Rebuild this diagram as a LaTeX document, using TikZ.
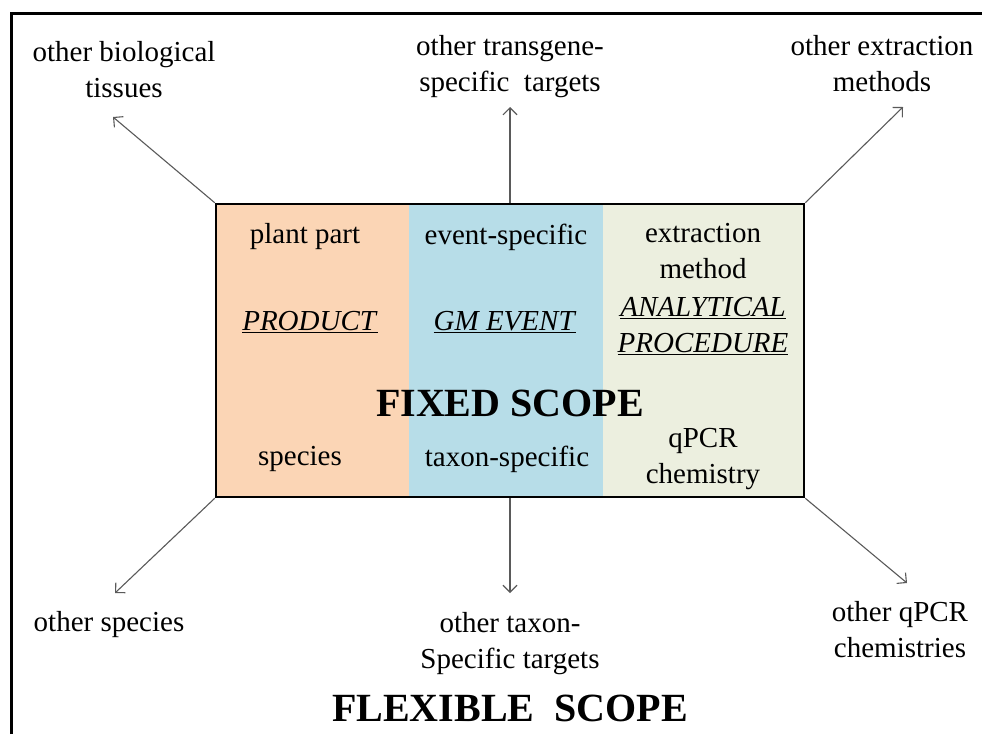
\documentclass[tikz,border=0pt]{standalone}
\usepackage{fontspec}
\setmainfont{Liberation Serif}
\usetikzlibrary{arrows.meta}
\definecolor{cA}{HTML}{FBD5B5}
\definecolor{cB}{HTML}{B7DDE8}
\definecolor{cC}{HTML}{ECEFDF}
\definecolor{arr}{HTML}{5A5A5A}
\tikzset{
 lbl/.style={font=\fontsize{29}{36}\selectfont, align=center, inner sep=0pt},
 big/.style={font=\fontsize{40}{48}\selectfont\bfseries, inner sep=0pt},
 cell/.style={draw=none, inner sep=0pt, minimum height=293pt},
 con/.style={draw=arr, line width=1.1pt, -{Straight Barb[length=7pt,width=14pt]}},
}
\begin{document}
\begin{tikzpicture}[x=1pt,y=-1pt]
\useasboundingbox (0,0) rectangle (982,734);
\fill[white] (0,0) rectangle (982,734);
\draw[line width=3pt] (11,734) -- (11,13) -- (982,13);
% columns
\node[cell, fill=cA, minimum width=193pt] (colA) at (312.5,350.5) {};
\node[cell, fill=cB, minimum width=194pt] (colB) at (506,350.5) {};
\node[cell, fill=cC, minimum width=201pt] (colC) at (703.5,350.5) {};
\node[draw=black, line width=2.5pt, minimum width=588pt, minimum height=293pt, inner sep=0pt] (box) at (510,350.5) {};
% inner texts
\node[lbl] (pp) at (305,237) {plant part};
\node[lbl] (prod) at (310,322) {\underline{\textit{PRODUCT}}};
\node[lbl] (sp) at (300,459) {species};
\node[lbl] (ev) at (506,237) {event-specific};
\node[lbl] (gm) at (505,322) {\underline{\textit{GM EVENT}}};
\node[lbl] (tx) at (507,459) {taxon-specific};
\node[lbl] (em) at (703,251) {extraction\\method};
\node[lbl] (ap) at (703,326) {\underline{\textit{ANALYTICAL}}\\\underline{\textit{PROCEDURE}}};
\node[lbl] (qc) at (703,459) {qPCR\\chemistry};
\node[big] (fixed) at (510,403) {FIXED SCOPE};
\node[big] (flex) at (510,708) {FLEXIBLE\ \ SCOPE};
% outer labels
\node[lbl] (l1) at (124,70) {other biological\\tissues};
\node[lbl] (l2) at (510,67) {other transgene-\\specific\ \ targets};
\node[lbl] (l3) at (882,64) {other extraction\\methods};
\node[lbl] (l4) at (109,625) {other species};
\node[lbl] (l5) at (510,644) {other taxon-\\Specific targets};
\node[lbl] (l6) at (900,630) {other qPCR\\chemistries};
% arrow ends
\coordinate (t1) at (113,117);
\coordinate (t2) at (510,107);
\coordinate (t3) at (903,107);
\coordinate (b1) at (115,593);
\coordinate (b2) at (510,593);
\coordinate (b3) at (907,583);
\draw[con] (box.north west) -- (t1);
\draw[con] (box.north) -- (t2);
\draw[con] (box.north east) -- (t3);
\draw[con] (box.south west) -- (b1);
\draw[con] (box.south) -- (b2);
\draw[con] (box.south east) -- (b3);
\end{tikzpicture}
\end{document}
